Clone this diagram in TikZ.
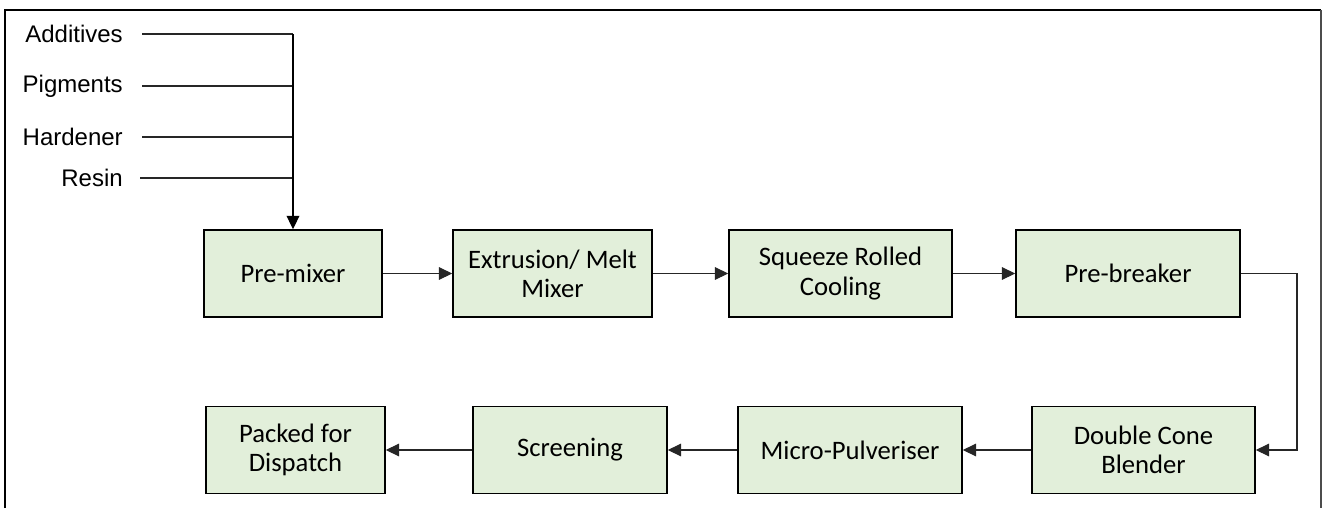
\documentclass[tikz,border=0pt]{standalone}
\usepackage{fontspec}
\setmainfont{Carlito}
\newfontfamily\labfont{Liberation Sans}
\usetikzlibrary{arrows.meta}
\definecolor{boxfill}{HTML}{E2EFDA}
\tikzset{
  procbox/.style={draw=black, line width=1.2pt, fill=boxfill, align=center,
    minimum height=87*0.75pt, inner sep=0pt, font=\fontsize{20}{22}\selectfont, text=black},
  inlabel/.style={anchor=east, inner sep=0pt, font=\labfont\fontsize{18}{20}\selectfont},
  conn/.style={line width=0.8pt, draw=black!85},
  arr/.style={conn, -{Triangle[length=10pt,width=9.5pt]}},
  frame/.style={line width=1.4pt, draw=black}
}
\begin{document}
\begin{tikzpicture}[x=0.75pt, y=-0.75pt]
\useasboundingbox (0,0) rectangle (1322,508);
% frame
\draw[frame] (5,508) -- (5,10) -- (1321,10);
\draw[line width=1pt, draw=black!70] (1321,10) -- (1321,508);

% top row
\node[procbox, minimum width=178*0.75pt] (premix) at (293,273.5) {Pre-mixer};
\node[procbox, minimum width=199*0.75pt] (extr) at (552.5,273.5) {Extrusion/ Melt\\Mixer};
\node[procbox, minimum width=223*0.75pt] (squeeze) at (840.5,273.5) {Squeeze Rolled\\Cooling};
\node[procbox, minimum width=224*0.75pt] (prebreak) at (1128,273.5) {Pre-breaker};
% bottom row
\node[procbox, minimum width=223*0.75pt] (dcone) at (1143.5,450) {Double Cone\\Blender};
\node[procbox, minimum width=224*0.75pt] (micro) at (850,450) {Micro-Pulveriser};
\node[procbox, minimum width=194*0.75pt] (screen) at (570,450) {Screening};
\node[procbox, minimum width=179*0.75pt] (packed) at (295.5,450) {Packed for\\Dispatch};

% input labels
\node[inlabel] (a1) at (123,34) {Additives};
\node[inlabel] (a2) at (123,86) {Pigments};
\node[inlabel] (a3) at (123,137) {Hardener};
\node[inlabel] (a4) at (123,178) {Resin};
\coordinate (j1) at (premix.north |- a1.east);
\coordinate (j2) at (premix.north |- a2.east);
\coordinate (j3) at (premix.north |- a3.east);
\coordinate (j4) at (premix.north |- a4.east);
\draw[conn] (a1.east) ++(19,0) -- (j1);
\draw[conn] (a2.east) ++(19,0) -- (j2);
\draw[conn] (a3.east) ++(19,0) -- (j3);
\draw[conn] (a4.east) ++(17,0) -- (j4);
\draw[arr, draw=black, line width=1pt] (j1) -- (premix.north);

% flow
\draw[arr] (premix) -- (extr);
\draw[arr] (extr) -- (squeeze);
\draw[arr] (squeeze) -- (prebreak);
\coordinate (turn) at (1297,0);
\draw[arr] (prebreak.east) -- (turn |- prebreak.east) -- (turn |- dcone.east) -- (dcone.east);
\draw[arr] (dcone) -- (micro);
\draw[arr] (micro) -- (screen);
\draw[arr] (screen) -- (packed);
\end{tikzpicture}
\end{document}
